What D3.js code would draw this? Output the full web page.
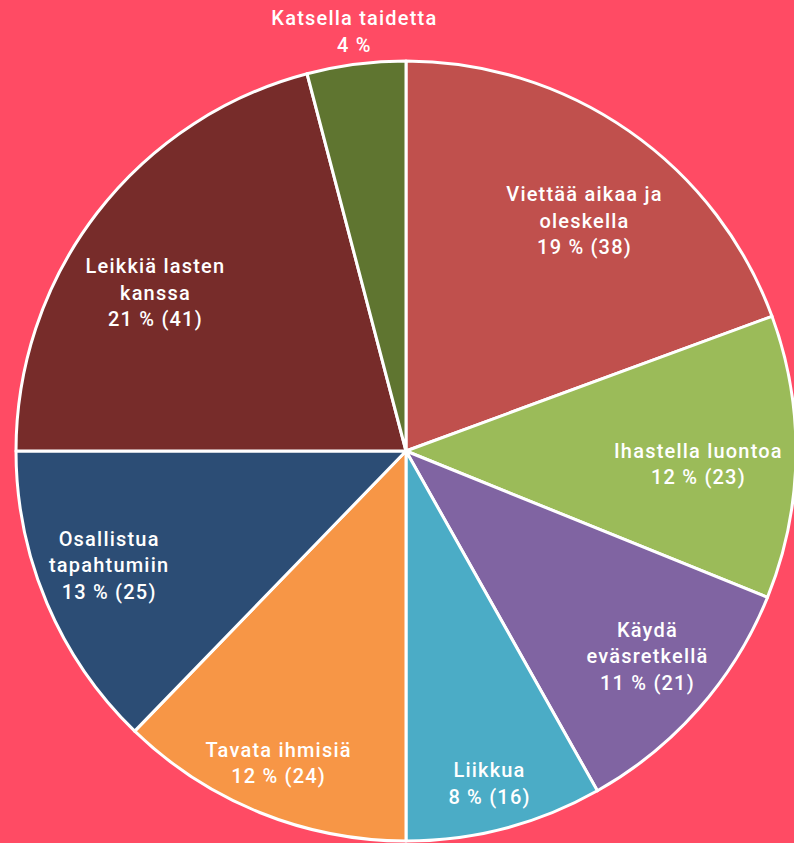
<!DOCTYPE html>
<html><head><meta charset="utf-8">
<script src="https://cdn.jsdelivr.net/npm/d3@7"></script>
<style>html,body{margin:0;padding:0;background:#FF4B64;}svg{display:block}</style>
</head><body>
<svg id="chart" width="794" height="843"></svg>
<script>
const categories = ["Viettää aikaa ja oleskella","Ihastella luontoa","Käydä eväsretkellä","Liikkua","Tavata ihmisiä","Osallistua tapahtumiin","Leikkiä lasten kanssa","Katsella taidetta"];
const values = [38,23,21,16,24,25,41,8];
const percentLabels = ["19 %","12 %","11 %","8 %","12 %","13 %","21 %","4 %"];
const showCount = [true,true,true,true,true,true,true,false];
const colors = ["#C0504D","#9BBB59","#8064A2","#4BACC6","#F79646","#2C4D75","#772C2A","#5F7530"];
const labelLines = [["Viettää aikaa ja","oleskella"],["Ihastella luontoa"],["Käydä","eväsretkellä"],["Liikkua"],["Tavata ihmisiä"],["Osallistua","tapahtumiin"],["Leikkiä lasten","kanssa"],["Katsella taidetta"]];
// layout: label block centre in polar form (degrees clockwise from top, distance as fraction of radius)
const labelAngleDeg = [37.7,92.5,130.4,166.0,202.3,249.0,302.2,352.9];
const labelRadiusFactor = [0.746,0.749,0.811,0.879,0.865,0.817,0.761,1.084];

const W=794,H=843,cx=406,cy=451,R=390;
const svg=d3.select("#chart");
const g=svg.append("g").attr("transform",`translate(${cx},${cy})`);
const pie=d3.pie().sort(null).value(d=>d)(values);
const arc=d3.arc().innerRadius(0).outerRadius(R);
g.selectAll("path").data(pie).join("path")
 .attr("d",arc).attr("fill",(d,i)=>colors[i])
 .attr("stroke","#fff").attr("stroke-width",3).attr("stroke-linejoin","round");

const fs=20, lh=26.5, cap=fs*0.71, ls=1.2;
pie.forEach((d,i)=>{
  const a=labelAngleDeg[i]*Math.PI/180;
  const r=R*labelRadiusFactor[i];
  const x=Math.sin(a)*r+ls/2, y=-Math.cos(a)*r;
  const lines=labelLines[i].concat([percentLabels[i]+(showCount[i]?` (${values[i]})`:"")]);
  const t=g.append("text").attr("text-anchor","middle")
   .attr("font-family","Roboto, 'Liberation Sans', sans-serif").attr("font-size",fs)
   .attr("font-weight",500).attr("letter-spacing",ls).attr("fill","#fff");
  const n=lines.length;
  const b0=y-((n-1)*lh+cap)/2+cap;
  lines.forEach((s,k)=>{
    t.append("tspan").attr("x",x).attr("y",b0+k*lh).text(s);
  });
});
</script>
</body></html>
